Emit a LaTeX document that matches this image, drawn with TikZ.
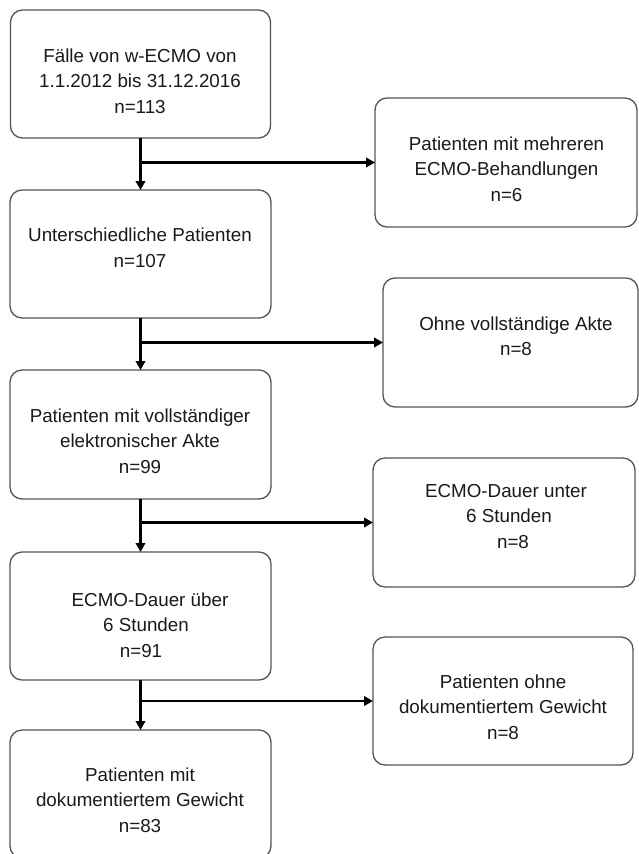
\documentclass[tikz,border=0pt]{standalone}
\usepackage{fontspec}
\setmainfont{Liberation Sans}
\usetikzlibrary{arrows.meta}
\definecolor{boxgray}{HTML}{555555}
\definecolor{txtcol}{HTML}{1A1A1A}
\begin{document}
\begin{tikzpicture}[x=1pt,y=-1pt,
  box/.style={draw=boxgray, line width=1.3pt, rounded corners=12pt, fill=white,
              inner sep=0pt, outer sep=0pt},
  txt/.style={align=center, inner sep=0pt, text=txtcol,
              font=\fontsize{18.8}{25.5}\selectfont},
  flow/.style={line width=2.6pt, -{Triangle[length=9pt,width=9.5pt]}}]
\useasboundingbox (0,0) rectangle (638,854);
\fill[white] (0,0) rectangle (638,854);
% left column boxes
\node[box, minimum width=260pt, minimum height=128pt] (b1) at (140.5,74) {};
\node[box, minimum width=261pt, minimum height=128pt] (b2) at (140.5,254) {};
\node[box, minimum width=261pt, minimum height=129pt] (b3) at (140.5,434.5) {};
\node[box, minimum width=261pt, minimum height=128pt] (b4) at (140.5,616) {};
\node[box, minimum width=261pt, minimum height=128pt] (b5) at (140.5,794) {};
% right column boxes
\node[box, minimum width=262pt, minimum height=129pt] (r1) at (506,162.5) {};
\node[box, minimum width=255pt, minimum height=129pt] (r2) at (510.5,342.5) {};
\node[box, minimum width=262pt, minimum height=129pt] (r3) at (504,522.5) {};
\node[box, minimum width=260pt, minimum height=128pt] (r4) at (503,701) {};
% texts
\node[txt] (t1) at (140,81) {Fälle von w-ECMO von\\1.1.2012 bis 31.12.2016\\n=113};
\node[txt] (t2) at (140,248) {Unterschiedliche Patienten\\n=107};
\node[txt] (t3) at (140,441) {Patienten mit vollständiger\\elektronischer Akte\\n=99};
\node[txt] (t4) at (141,625) {\hspace*{18pt}ECMO-Dauer über\\\hspace*{10pt}6 Stunden\\n=91};
\node[txt] (t5) at (140,800) {Patienten mit\\dokumentiertem Gewicht\\n=83};
\node[txt] (s1) at (506.5,169) {Patienten mit mehreren\\ECMO-Behandlungen\\n=6};
\node[txt] (s2) at (516,336.5) {Ohne vollständige Akte\\n=8};
\node[txt] (s3) at (506,516.5) {ECMO-Dauer unter\\\hspace*{6pt}6 Stunden\\\hspace*{14pt}n=8};
\node[txt] (s4) at (503,707) {Patienten ohne\\dokumentiertem Gewicht\\n=8};
% connectors
\draw[flow] (b1.south) -- (b2.north);
\draw[flow] (b2.south) -- (b3.north);
\draw[flow] (b3.south) -- (b4.north);
\draw[flow] (b4.south) -- (b5.north);
\draw[flow] (b1.south |- r1.west) -- (r1.west);
\draw[flow] (b2.south |- r2.west) -- (r2.west);
\draw[flow] (b3.south |- r3.west) -- (r3.west);
\draw[flow] (b4.south |- r4.west) -- (r4.west);
\end{tikzpicture}
\end{document}
